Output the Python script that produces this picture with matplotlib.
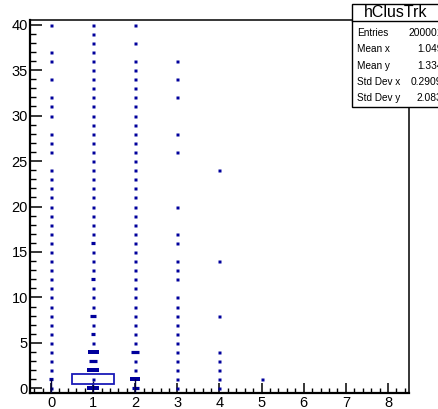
import matplotlib.pyplot as plt
from matplotlib.ticker import MultipleLocator
from matplotlib.patches import Rectangle
from matplotlib.lines import Line2D

plt.rcParams['font.family'] = ['Liberation Sans', 'DejaVu Sans']

# ---------------------------------------------------------
# data: outlier y values seen in each x bin of hClusTrk
# ---------------------------------------------------------
ys_bin0 = [0, 1, 2, 3, 4, 5, 6, 7, 8, 9, 10, 11, 12, 13, 14, 15, 16, 17, 18, 19,
           20, 21, 22, 23, 24, 26, 27, 28, 30, 31, 32, 34, 36, 37, 40]
ys_bin1 = [0, 1, 2, 3, 4, 5, 6, 7, 8, 9, 10, 11, 12, 13, 14, 15, 16, 17, 18, 19,
           20, 21, 22, 23, 24, 25, 26, 27, 28, 29, 30, 31, 32, 33, 34, 35, 36, 37,
           38, 39, 40]
ys_bin2 = [0, 1, 2, 3, 4, 5, 6, 7, 8, 9, 10, 11, 12, 13, 14, 15, 16, 17, 18, 19,
           20, 21, 22, 23, 24, 25, 26, 27, 28, 29, 30, 31, 32, 33, 34, 35, 36, 38, 40]
ys_bin3 = [0, 1, 2, 3, 4, 5, 6, 7, 8, 9, 10, 12, 13, 14, 16, 17, 20, 26, 28, 32, 34, 36]
ys_bin4 = [0, 1, 2, 3, 4, 8, 14, 24]
ys_bin5 = [1]
outliers = {0: ys_bin0, 1: ys_bin1, 2: ys_bin2, 3: ys_bin3, 4: ys_bin4, 5: ys_bin5}

# points where many entries pile up (drawn as wider dashes)
multiplicity = {(0, 1): 1.5, (1, 0): 4.0, (1, 2): 4.0, (1, 3): 2.5, (1, 4): 3.6,
                (1, 6): 1.5, (1, 8): 2.2, (1, 12): 1.4, (1, 16): 1.4,
                (2, 0): 2.4, (2, 1): 3.4, (2, 4): 2.6}

# candle parts
candle_x = [0, 1, 2]
candle_q1 = [1.0, 0.47, 1.0]
candle_q3 = [1.0, 1.55, 1.0]
whisker_top = [1.0, 0.8, 1.0]
whisker_bottom = [-0.5, -0.5, -0.5]

stats_names = ["Entries", "Mean x", "Mean y", "Std Dev x", "Std Dev y"]
stats_values = ["200001", "1.049", "1.334", "0.2909", "2.083"]

# ---------------------------------------------------------
W, H = 439, 409
fig = plt.figure(figsize=(W / 100, H / 100), dpi=100)
fig.patch.set_facecolor("white")
ax = fig.add_axes([30 / W, 1 - 393 / H, 379 / W, 373 / H])
ax.set_xlim(-0.5, 8.5)
ax.set_ylim(-0.5, 40.5)

dot_color = "#00009c"
px_per_x = 379 / 9.0
dot_px = 3.0

for xb, ys in outliers.items():
    plain = [y for y in ys if (xb, y) not in multiplicity]
    ax.plot([xb] * len(plain), plain, ls="none", marker="s", ms=dot_px * 0.72,
            mec="none", mfc=dot_color, zorder=3)

for (xb, y), m in multiplicity.items():
    half = dot_px * m / 2 / px_per_x
    lw = (4.0 if m >= 3 else 3.2) * 0.72
    ax.hlines(y, xb - half, xb + half, color=dot_color, lw=lw, zorder=3,
              capstyle="butt")

for xc, q1, q3, wt, wb in zip(candle_x, candle_q1, candle_q3, whisker_top, whisker_bottom):
    ax.vlines(xc, wb, wt, color="#000040", lw=1.0, zorder=4)
    if q3 > q1:
        ax.add_patch(Rectangle((xc - 0.5, q1), 1.0, q3 - q1, fill=False,
                               ec="#1a1ab8", lw=1.3, zorder=4))

ax.xaxis.set_major_locator(MultipleLocator(1))
ax.xaxis.set_minor_locator(MultipleLocator(0.2))
ax.yaxis.set_major_locator(MultipleLocator(5))
ax.yaxis.set_minor_locator(MultipleLocator(1))
ax.tick_params(axis="x", which="major", direction="in", length=7.2, width=1.1,
               labelsize=10.5, pad=2, top=False)
ax.tick_params(axis="x", which="minor", direction="in", length=3.6, width=1.0, top=False)
ax.tick_params(axis="y", which="major", direction="in", length=8.6, width=1.1,
               labelsize=10.5, pad=1.5, right=False)
ax.tick_params(axis="y", which="minor", direction="in", length=4.2, width=1.0, right=False)
for s in ax.spines.values():
    s.set_linewidth(1.1)
ax.spines["left"].set_linewidth(1.6)
ax.spines["bottom"].set_linewidth(1.6)

# ---------------------------------------------------------
# stats box
# ---------------------------------------------------------
bx0, btop, bbot = 352 / W, 1 - 4 / H, 1 - 107 / H
fig.add_artist(Rectangle((bx0, bbot), 1 - bx0 + 0.01, btop - bbot, fill=True,
                         fc="white", ec="black", lw=1.0, transform=fig.transFigure,
                         zorder=5))
fig.add_artist(Line2D([bx0, 1.0], [1 - 20.5 / H] * 2, color="black", lw=1.0,
                      transform=fig.transFigure, zorder=6))
fig.text((352 + 439) / 2 / W, 1 - 12.5 / H, "hClusTrk", ha="center", va="center",
         fontsize=11.5, zorder=7)
row_y = [32.7, 49.2, 65.6, 82.0, 98.4]
for name, val, ry in zip(stats_names, stats_values, row_y):
    fig.text(357 / W, 1 - ry / H, name, ha="left", va="center", fontsize=7.2, zorder=7)
    fig.text(442.5 / W, 1 - ry / H, val, ha="right", va="center", fontsize=7.4, zorder=7)

fig.savefig("out.png", dpi=100)
